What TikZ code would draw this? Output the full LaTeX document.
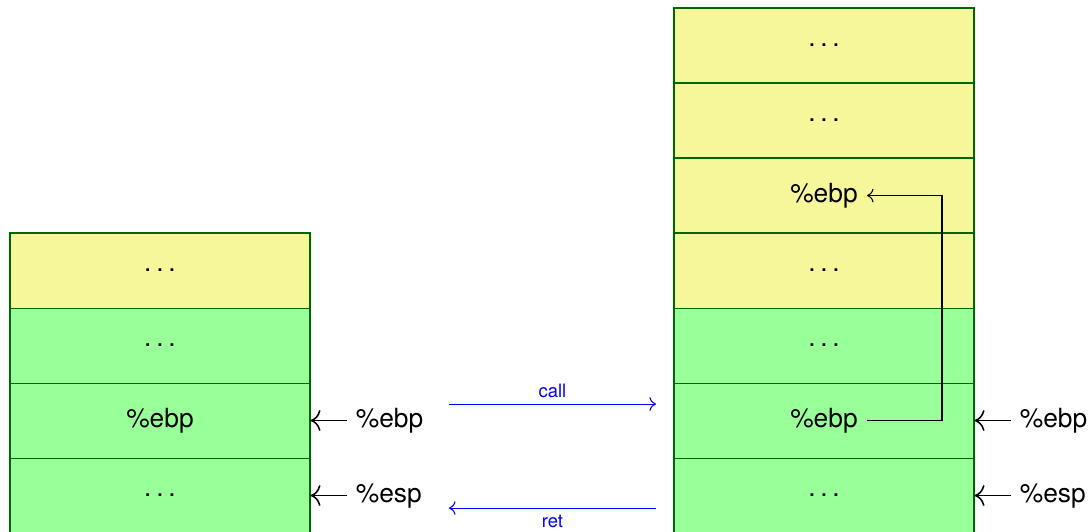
\documentclass[tikz,border=0pt]{standalone}
\usepackage{fontspec}
\setmainfont{TeX Gyre Heros}
\usepackage{xcolor}
\usepackage{tikz}
\usetikzlibrary{arrows.meta, positioning, calc}

% spaced dots for unnamed slots
\newcommand{\cellgap}{.\kern1.8pt.\kern1.8pt.}

\tikzset{
  cell/.style={draw=green!40!black, minimum width=4cm, minimum height=1cm, inner sep=0pt},
  old/.style={cell, fill=green!40},
  new/.style={cell, fill=yellow!90!green!40},
  reg/.style={inner sep=0.117cm},
  ptr/.style={-{To[scale=1.3]}, semithick},
  flow/.style={->, blue, thin}
}

\begin{document}
\begin{tikzpicture}[every node/.style={font=\normalsize}]
    \useasboundingbox (-0.133,0.027) rectangle (14.373,7.107);
    % stack before the call
    \node[old] (L1) at (2,0.5) {\cellgap};
    \node[old] (L2) at (2,1.5) {};
    \node[reg] (L2t) at (L2) {\%ebp};
    \node[old] (L3) at (2,2.5) {\cellgap};
    \node[new] (L4) at (2,3.5) {\cellgap};
    % stack after the call
    \node[old] (R1) at (10.853,0.5) {\cellgap};
    \node[old] (R2) at (10.853,1.5) {};
    \node[reg] (R2t) at (R2) {\%ebp};
    \node[old] (R3) at (10.853,2.5) {\cellgap};
    \node[new] (R4) at (10.853,3.5) {\cellgap};
    \node[new] (R5) at (10.853,4.5) {};
    \node[reg] (R5t) at (R5) {\%ebp};
    \node[new] (R6) at (10.853,5.5) {\cellgap};
    \node[new] (R7) at (10.853,6.5) {\cellgap};
    % register pointers
    \node[reg, right=0.48cm of L2.east] (Lebp) {\%ebp};
    \node[reg, right=0.48cm of L1.east] (Lesp) {\%esp};
    \node[reg, right=0.48cm of R2.east] (Rebp) {\%ebp};
    \node[reg, right=0.48cm of R1.east] (Resp) {\%esp};
    \draw[ptr] (Lebp.west) -- (L2.east);
    \draw[ptr] (Lesp.west) -- (L1.east);
    \draw[ptr] (Rebp.west) -- (R2.east);
    \draw[ptr] (Resp.west) -- (R1.east);
    % saved frame pointer
    \draw[->] (R2t.east) -- ++(1,0) |- (R5t.east);
    % call and return
    \coordinate (c0) at (5.853,1.72);
    \coordinate (c1) at (8.613,1.72);
    \coordinate (r0) at (8.613,0.333);
    \coordinate (r1) at (5.853,0.333);
    \draw[flow] (c0) -- node[above=-1pt, font=\scriptsize]{call} (c1);
    \draw[flow] (r0) -- node[below=-1pt, font=\scriptsize]{ret} (r1);
\end{tikzpicture}
\end{document}
